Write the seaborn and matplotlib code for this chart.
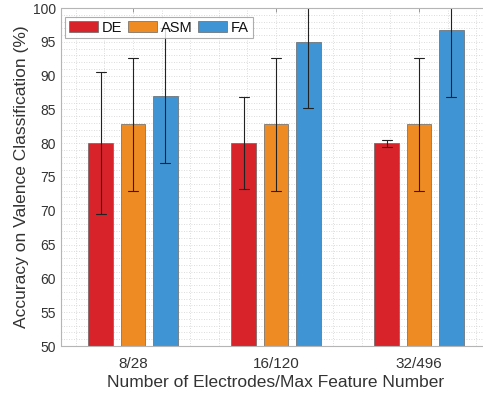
""" Valence classification accuracy by electrode count """

import matplotlib
matplotlib.use("Agg")
import matplotlib.pyplot as plt
import pandas as pd
import seaborn as sns
from matplotlib.ticker import MultipleLocator

# data
groups = ["8/28", "16/120", "32/496"]
methods = ["DE", "ASM", "FA"]
de_mean = [80.0, 80.0, 80.0]
de_err = [10.5, 6.8, 0.5]
asm_mean = [82.8, 82.8, 82.8]
asm_err = [9.8, 9.8, 9.8]
fa_mean = [87.0, 95.0, 96.7]
fa_err = [10.0, 9.8, 9.9]
colors = ["#D9232B", "#EE8B22", "#3F95D3"]

# two rows per bar (mean - err, mean + err) so seaborn draws the range
rows = []
for method, means, errs in zip(methods, [de_mean, asm_mean, fa_mean],
                               [de_err, asm_err, fa_err]):
    for g, m, e in zip(groups, means, errs):
        rows.append({"group": g, "method": method, "acc": m - e})
        rows.append({"group": g, "method": method, "acc": m + e})
df = pd.DataFrame(rows)

sns.set_style("white")
plt.rcParams["font.family"] = ["Liberation Sans", "DejaVu Sans"]
text_col = "#333333"

fig = plt.figure(figsize=(4.83, 3.96), dpi=100)
ax = fig.add_axes([61.5 / 483, 50 / 396, 429 / 483, 338 / 396])

sns.barplot(data=df, x="group", y="acc", hue="method", order=groups,
            hue_order=methods, palette=colors, estimator="mean",
            errorbar=lambda x: (x.min(), x.max()), width=0.672, gap=0.22,
            capsize=0.22, err_kws={"color": "#222222", "linewidth": 0.8},
            edgecolor="#666666", linewidth=0.5, saturation=1, ax=ax)

ax.set_ylim(50, 100)
ax.set_xlim(-0.5, 2.5)
ax.yaxis.set_major_locator(MultipleLocator(5))
ax.yaxis.set_minor_locator(MultipleLocator(1))
ax.xaxis.set_minor_locator(MultipleLocator(0.2))
ax.grid(which="both", linestyle=(0, (1, 2)), color="#d0d0d0", linewidth=0.6)
ax.set_axisbelow(True)

ax.tick_params(axis="both", which="major", direction="in", length=3,
               width=0.6, color="#888888", labelcolor=text_col, top=True)
ax.tick_params(axis="x", labelsize=11, pad=8)
ax.tick_params(axis="y", labelsize=10, pad=4)
ax.tick_params(axis="both", which="minor", length=0)
for side in ["left", "bottom", "top"]:
    ax.spines[side].set_color("#b5b5b5")
    ax.spines[side].set_linewidth(0.8)
ax.spines["right"].set_visible(False)

ax.set_xlabel("Number of Electrodes/Max Feature Number", fontsize=12.5,
              color=text_col, labelpad=3)
ax.set_ylabel("Accuracy on Valence Classification (%)", fontsize=12.5,
              color=text_col, labelpad=3)

leg = ax.legend(loc="upper left", bbox_to_anchor=(3.5 / 429, 1 - 9 / 338),
                ncol=3, frameon=True, fancybox=False, fontsize=10.5,
                handlelength=2.0, handleheight=0.85, handletextpad=0.25,
                columnspacing=0.4, borderpad=0.25, borderaxespad=0,
                edgecolor="#999999")
leg.get_frame().set_linewidth(0.8)
for t in leg.get_texts():
    t.set_color("#111111")

fig.savefig("out.png", dpi=100)
